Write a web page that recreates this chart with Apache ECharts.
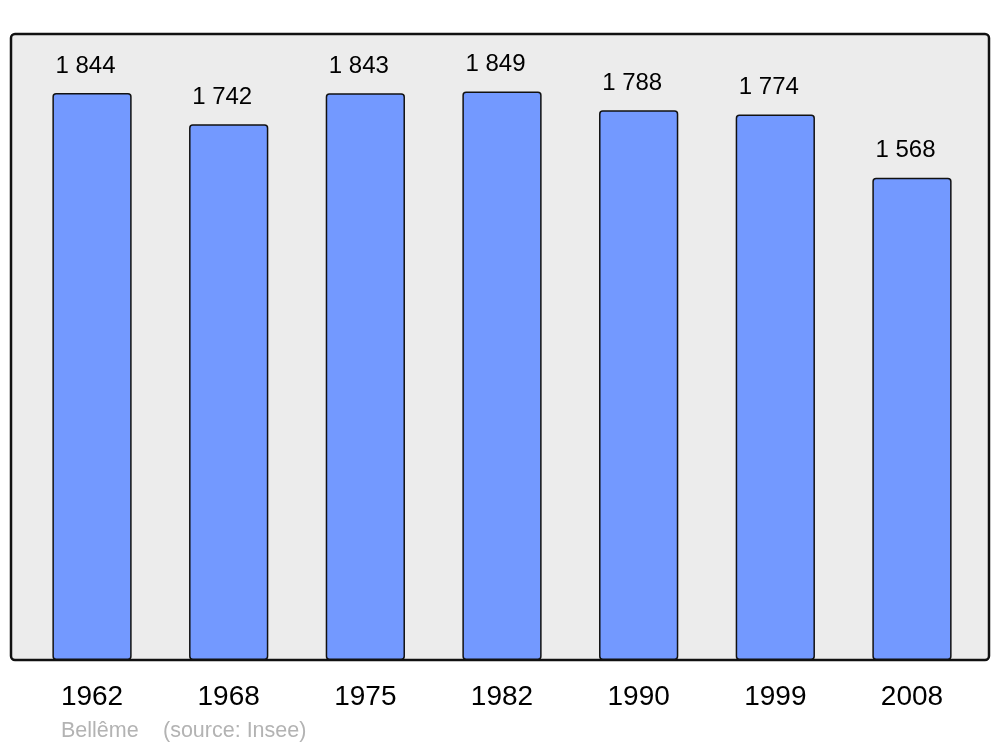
<!DOCTYPE html>
<html>
<head>
<meta charset="utf-8">
<script src="https://cdn.jsdelivr.net/npm/echarts@6/dist/echarts.min.js"></script>
<style>
html,body{margin:0;padding:0;background:#fff;}
#chart{width:1000px;height:747px;}
</style>
</head>
<body>
<div id="chart"></div>
<script>
const years = ['1962', '1968', '1975', '1982', '1990', '1999', '2008'];
const population = [1844, 1742, 1843, 1849, 1788, 1774, 1568];
const placeName = 'Bellême';
const sourceText = '(source: Insee)';

const fmt = v => String(v).replace(/\B(?=(\d{3})+(?!\d))/g, ' ');

const chart = echarts.init(document.getElementById('chart'), null, {renderer: 'canvas'});
chart.setOption({
  animation: false,
  backgroundColor: '#ffffff',
  textStyle: {fontFamily: 'Liberation Sans, Arial, sans-serif'},
  graphic: [
    {
      type: 'rect', z: -10, silent: true,
      shape: {x: 11, y: 34, width: 978, height: 626, r: 4},
      style: {fill: '#ececec', stroke: '#111111', lineWidth: 2.5}
    },
    {
      type: 'text', left: 61, top: 720,
      style: {text: placeName, fill: '#b3b3b3', font: '21.5px "Liberation Sans", Arial, sans-serif'}
    },
    {
      type: 'text', left: 163, top: 720,
      style: {text: sourceText, fill: '#b3b3b3', font: '21.5px "Liberation Sans", Arial, sans-serif'}
    }
  ],
  grid: {left: 23.7, right: 19.7, top: 45, bottom: 87, containLabel: false},
  xAxis: {
    type: 'category',
    data: years,
    axisLine: {show: false},
    axisTick: {show: false},
    axisLabel: {color: '#000', fontSize: 28, margin: 23, fontFamily: 'Liberation Sans, Arial, sans-serif'}
  },
  yAxis: {
    type: 'value', min: 0, max: 2000,
    show: false,
    splitLine: {show: false}
  },
  series: [{
    type: 'bar',
    data: population,
    barWidth: '58%',
    itemStyle: {color: '#7399ff', borderColor: '#111111', borderWidth: 1.5, borderRadius: 3},
    label: {
      show: true, position: 'top', distance: 15, offset: [-6.5, 0],
      color: '#000', fontSize: 24,
      fontFamily: 'Liberation Sans, Arial, sans-serif',
      formatter: p => fmt(p.value)
    }
  }]
});
</script>
</body>
</html>
